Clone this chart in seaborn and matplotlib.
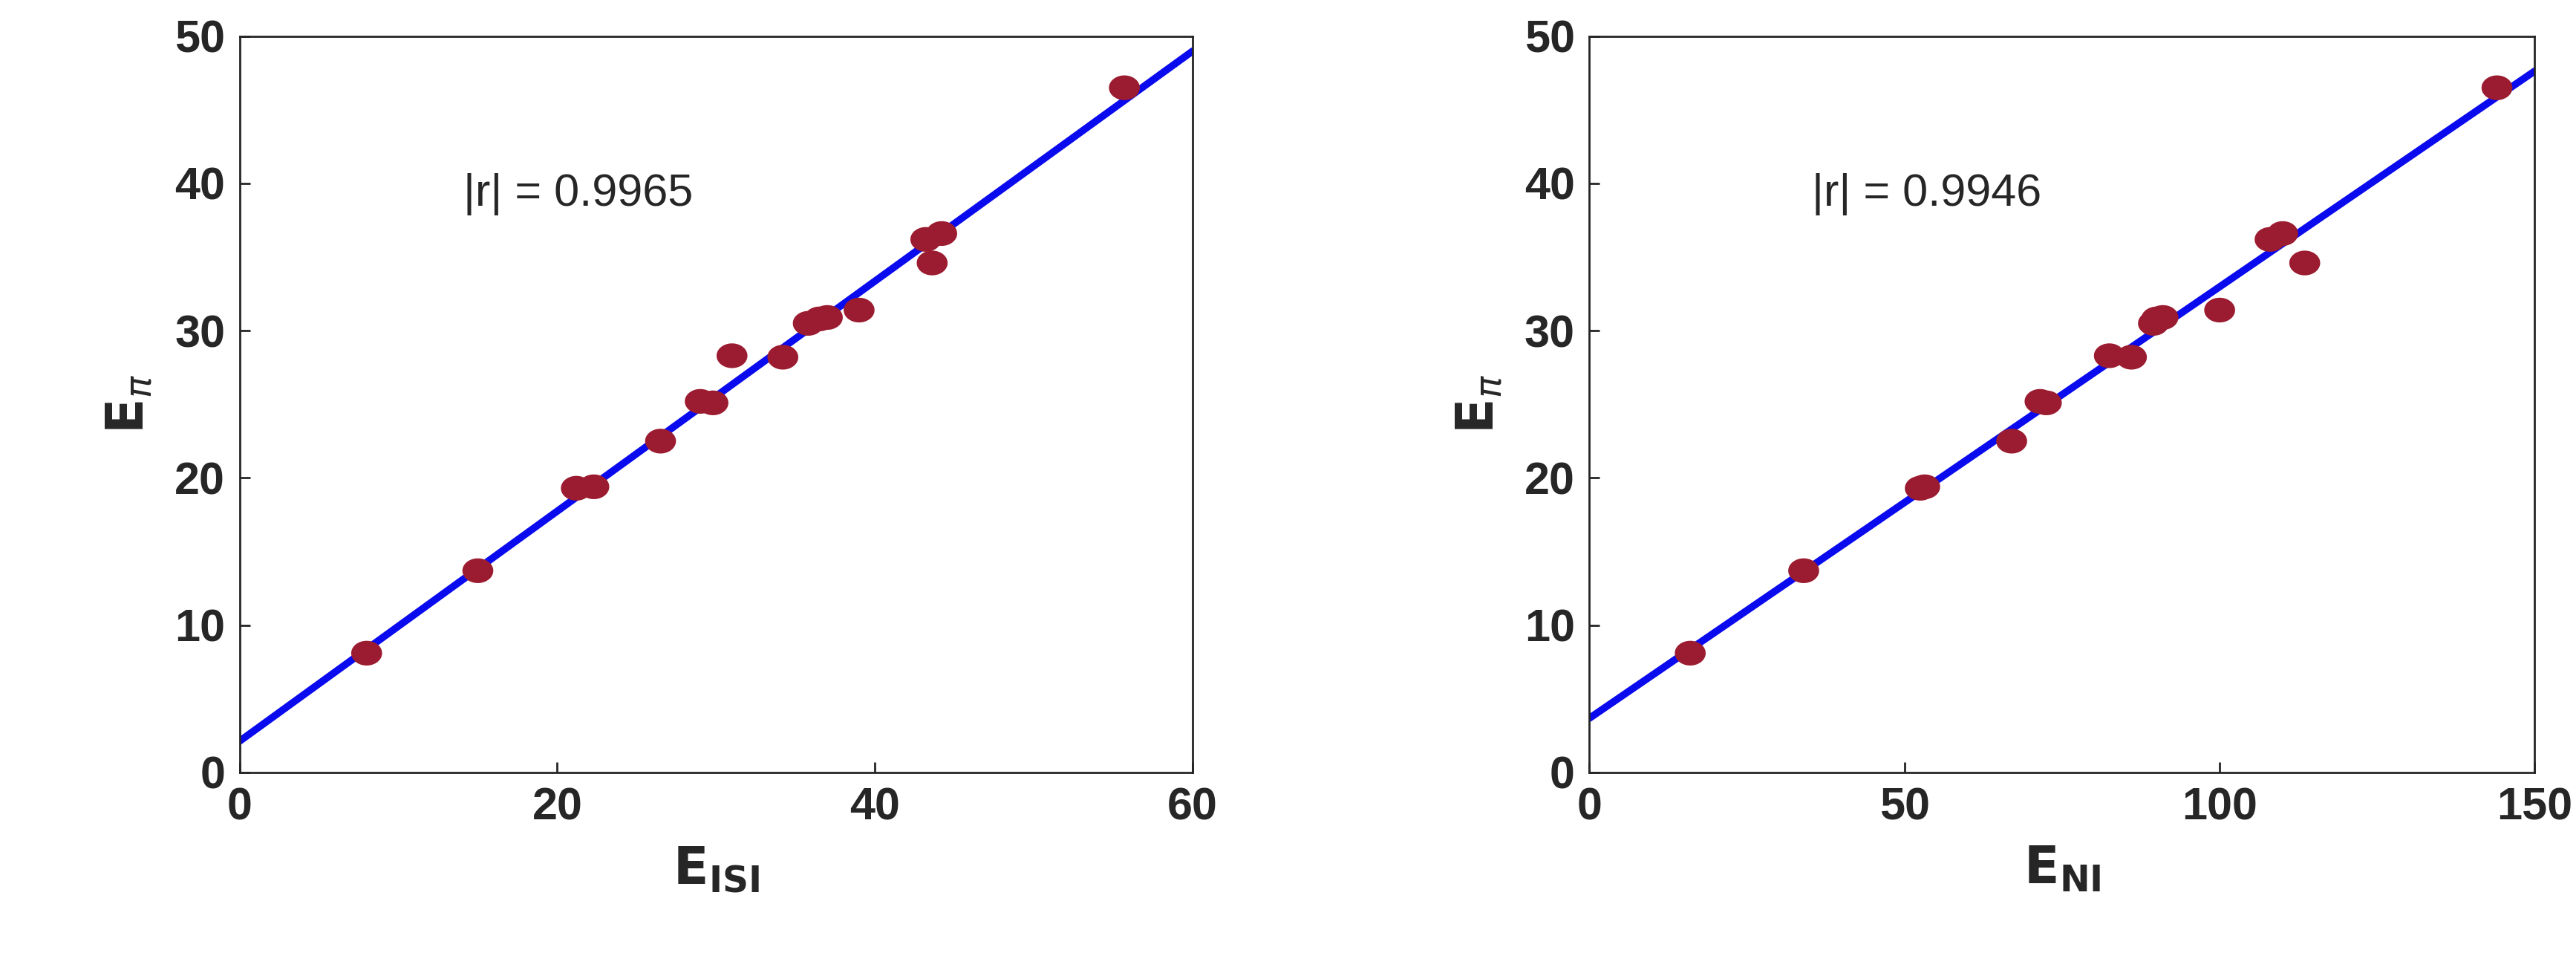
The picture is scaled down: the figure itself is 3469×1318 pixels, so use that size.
import numpy as np
import pandas as pd
import matplotlib.pyplot as plt
import seaborn as sns

e_pi = [8.1, 13.7, 19.3, 19.4, 22.5, 25.2, 25.1, 28.3, 28.2, 30.5, 30.8, 30.9, 31.4, 36.2, 34.6, 36.6, 46.5]
e_isi = [8.0, 15.0, 21.2, 22.3, 26.5, 29.0, 29.8, 31.0, 34.2, 35.8, 36.5, 37.0, 39.0, 43.2, 43.6, 44.2, 55.7]
e_ni = [16.0, 34.0, 52.5, 53.2, 67.0, 71.5, 72.5, 82.5, 86.0, 89.5, 90.0, 91.0, 100.0, 108.0, 113.5, 110.0, 144.0]

data = pd.DataFrame({"pi": e_pi, "isi": e_isi, "ni": e_ni})

# slightly wide elliptical marker
t = np.linspace(0, 2 * np.pi, 40)
ellipse = np.column_stack([np.cos(t), 0.8 * np.sin(t)])

sns.set_style("ticks")
plt.rcParams["font.family"] = ["Liberation Sans", "DejaVu Sans"]

fig = plt.figure(figsize=(34.69, 13.18), dpi=100)
panels = [
    ("isi", r"$\mathbf{E_{ISI}}$", 60, [0, 20, 40, 60], "|r| = 0.9965", 0.093, 0.463),
    ("ni", r"$\mathbf{E_{NI}}$", 150, [0, 50, 100, 150], "|r| = 0.9946", 0.617, 0.984),
]
for col, xlabel, xmax, xticks, rtext, left, right in panels:
    ax = fig.add_axes([left, 0.211, right - left, 0.752])
    ax.set_xlim(0, xmax)
    ax.set_ylim(0, 50)
    sns.regplot(data=data, x=col, y="pi", ax=ax, ci=None, truncate=False, scatter=False,
                line_kws=dict(color="#0a0aee", lw=7, zorder=1))
    sns.scatterplot(data=data, x=col, y="pi", ax=ax, marker=ellipse, s=900,
                    color="#9b1b30", edgecolor="none", zorder=2)
    ax.set_xlim(0, xmax)
    ax.set_ylim(0, 50)
    ax.set_xticks(xticks)
    ax.set_yticks(range(0, 51, 10))
    ax.tick_params(labelsize=44, width=2, length=10, direction="in", pad=14)
    for lab in ax.get_xticklabels() + ax.get_yticklabels():
        lab.set_fontweight("bold")
    ax.set_xlabel(xlabel, fontsize=50, labelpad=15)
    ax.set_ylabel(r"$\mathbf{E_{\boldsymbol{\pi}}}$" if False else r"$\mathbf{E}_{\pi}$", fontsize=50, labelpad=20)
    for s in ax.spines.values():
        s.set_linewidth(2)
        s.set_visible(True)
    ax.text(0.235, 0.77, rtext, transform=ax.transAxes, fontsize=44)

fig.savefig("out.png", dpi=100)
